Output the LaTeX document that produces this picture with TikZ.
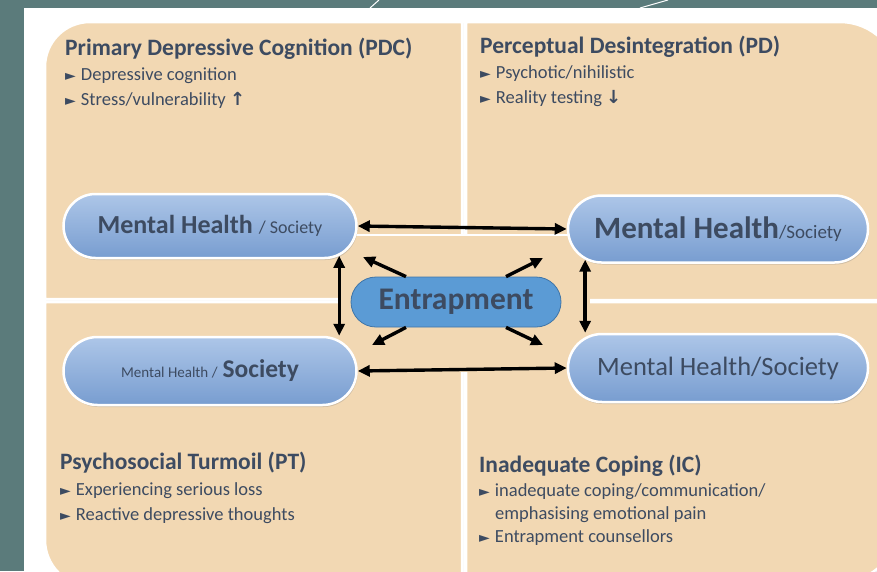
\documentclass[tikz,border=0pt]{standalone}
\usepackage{fontspec}
\setmainfont{Carlito}
\newfontfamily\symf{DejaVu Sans}
\usetikzlibrary{shapes.misc,arrows.meta,shadows,calc}
\definecolor{bgteal}{HTML}{5B7B7B}
\definecolor{tanc}{HTML}{F2D8B3}
\definecolor{pilltop}{HTML}{ADC6E8}
\definecolor{pillbot}{HTML}{789DD0}
\definecolor{entfill}{HTML}{5B9BD5}
\definecolor{entline}{HTML}{3F75A8}
\definecolor{txt}{HTML}{3D4B61}
\newcommand{\bul}{{\symf\fontsize{14}{14}\selectfont ►}\hspace{5pt}}
\newcommand{\arw}[1]{{\symf\bfseries\fontsize{18}{18}\selectfont #1}}
\tikzset{
  quad/.style={fill=tanc, draw=white, line width=2.5pt,
    drop shadow={shadow xshift=1.2pt, shadow yshift=-1.2pt, opacity=0.35, fill=gray}},
  pill/.style={rounded rectangle, draw=white, line width=2.5pt, top color=pilltop,
    bottom color=pillbot, text=txt, inner sep=0pt,
    drop shadow={shadow xshift=1pt, shadow yshift=-2pt, opacity=0.3, fill=gray}},
  entbox/.style={rounded rectangle, draw=entline, line width=0.8pt, fill=entfill,
    text=txt, inner sep=0pt, minimum width=210pt, minimum height=50pt},
  ttl/.style={anchor=base west, text=txt, font=\fontsize{23.5}{23.5}\selectfont\bfseries, inner sep=0pt},
  itm/.style={anchor=base west, text=txt, font=\fontsize{18.5}{20}\selectfont, inner sep=0pt},
  dbl/.style={{Triangle[length=12pt,width=11pt]}-{Triangle[length=12pt,width=11pt]}, line width=3.4pt, black},
  sgl/.style={-{Triangle[length=12pt,width=11pt]}, line width=3.4pt, black}
}
\begin{document}
\begin{tikzpicture}[x=1pt,y=-1pt]
\useasboundingbox (0,0) rectangle (877,571);
\clip (0,0) rectangle (877,571);
\fill[bgteal] (0,0) rectangle (877,571);
\fill[white] (24,8) rectangle (877,571);
\draw[white, line width=1pt] (370,8) -- (379,0);
\draw[white, line width=1pt] (640,8) -- (668,0);
% quadrants
\path[quad] (45,299) -- (45,67) .. controls (45,42) and (65,22) .. (90,22) -- (462,22) -- (462,299) -- cycle;
\path[quad] (466,300) -- (466,22) -- (840,22) .. controls (872.6,22) and (899,48.4) .. (899,81) -- (899,300) -- cycle;
\path[quad] (45,302) -- (462,302) -- (462,586) -- (91,586) .. controls (65.6,586) and (45,565.4) .. (45,540) -- cycle;
\path[quad] (466,302) -- (899,302) -- (899,523) .. controls (899,555.6) and (872.6,582) .. (840,582) -- (466,582) -- cycle;
% central area
\fill[tanc] (340,235) rectangle (590,372);
\draw[white, line width=1.5pt] (340,235) -- (590,235);
% texts
\node[ttl] (t1) at (65,55) {Primary Depressive Cognition (PDC)};
\node[itm] (t1a) at (65,80) {\bul Depressive cognition};
\node[itm] (t1b) at (65,105) {\bul Stress/vulnerability \arw{↑}};
\node[ttl] (t2) at (480,53) {Perceptual Desintegration (PD)};
\node[itm] (t2a) at (480,78) {\bul Psychotic/nihilistic};
\node[itm] (t2b) at (480,103) {\bul Reality testing \arw{↓}};
\node[ttl] (t3) at (60,469) {Psychosocial Turmoil (PT)};
\node[itm] (t3a) at (60,495) {\bul Experiencing serious loss};
\node[itm] (t3b) at (60,520) {\bul Reactive depressive thoughts};
\node[ttl] (t4) at (479,472) {Inadequate Coping (IC)};
\node[itm] (t4a) at (479,496) {\bul inadequate coping/communication/};
\node[itm] (t4b) at (495,519) {emphasising emotional pain};
\node[itm] (t4c) at (479,542) {\bul Entrapment counsellors};
% pills
\node[pill, minimum width=293pt, minimum height=64pt] (mhA) at (210,226)
  {{\fontsize{26}{26}\selectfont\bfseries Mental Health}\hspace{6pt}{\fontsize{18}{18}\selectfont / Society}};
\node[pill, minimum width=300pt, minimum height=67pt] (mhB) at (718,229)
  {{\fontsize{31}{31}\selectfont\bfseries Mental Health}{\fontsize{19}{19}\selectfont /Society}};
\node[pill, minimum width=293pt, minimum height=68pt] (mhC) at (210,371)
  {{\fontsize{15}{15}\selectfont Mental Health /}\hspace{5pt}{\fontsize{25.5}{25.5}\selectfont\bfseries Society}};
\node[pill, minimum width=300pt, minimum height=68pt] (mhD) at (718,368)
  {\fontsize{26.5}{26.5}\selectfont Mental Health/Society};
\node[entbox] (ent) at (456,302) {\fontsize{31.5}{31.5}\selectfont\bfseries Entrapment};
% arrows
\draw[dbl] (mhA.east) -- (mhB.west);
\draw[dbl] (mhC.east) -- (mhD.west);
\draw[dbl] (mhA.-13) -- (mhA.-13 |- mhC.north);
\draw[dbl] (mhB.193) -- (mhB.193 |- mhD.north);
\coordinate (ul) at (363,257);
\coordinate (ll) at (372,345);
\coordinate (ur) at (543,258);
\coordinate (lr) at (543,345);
\draw[sgl] ([xshift=-50pt]ent.north) -- (ul);
\draw[sgl] ([xshift=-50pt]ent.south) -- (ll);
\draw[sgl] ([xshift=50pt]ent.north) -- (ur);
\draw[sgl] ([xshift=50pt]ent.south) -- (lr);
\end{tikzpicture}
\end{document}
